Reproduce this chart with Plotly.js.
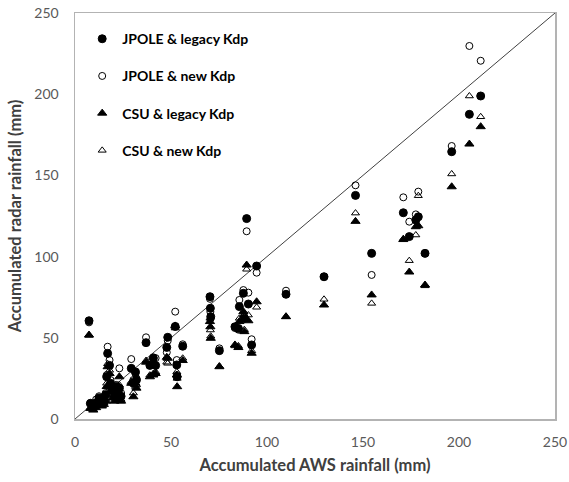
<!DOCTYPE html>
<html>
<head>
<meta charset="utf-8">
<script src="https://cdn.plot.ly/plotly-3.0.1.min.js"></script>
<style>html,body{margin:0;padding:0;background:#fff;}#chart{width:569px;height:482px;}</style>
</head>
<body>
<div id="chart"></div>
<script>
// Accumulated AWS rainfall (mm) per station
var awsRain = [7.3, 8, 9.5, 11, 12.5, 14, 15, 16, 16.5, 17, 18, 18.5, 19.5, 20.5, 21.5, 22.5, 23.1, 24,
  29.3, 30.4, 31.5, 32, 37, 39, 40.8, 42, 48.3, 47.8, 52.2, 53, 53.2, 56.1,
  70.3, 70.5, 70.7, 75.2, 83.3, 85.1, 85.6, 87.7, 88.2, 90.3, 89.4, 92, 94.6, 109.9, 129.7,
  146.1, 154.5, 171, 174.1, 177.5, 178.8, 182.3, 196.2, 205.4, 211.3];
// Radar rainfall estimates (mm)
var jpoleLegacy = [60.5, 9.5, 8, 10, 13, 12, 10.5, 15, 26, 40.4, 33, 22, 18, 15, 20, 17, 19, 14,
  31.2, 22, 29, 24, 47, 33, 37.4, 33, 50.3, 44.1, 57, 33.3, 26, 44.8,
  75.3, 68.2, 63, 42.1, 56.8, 55.8, 69.2, 77.4, 62, 70.8, 123.4, 45.6, 94.2, 76.8, 87.6,
  137.7, 102, 127, 112.3, 122.5, 124.5, 102, 164.6, 187.6, 198.9];
var jpoleNew = [59.5, 10, 9, 12, 14, 11, 13, 16, 27, 44.5, 36.3, 24, 20, 17, 21, 19, 31.2, 16,
  36.9, 24, 28, 25, 50.3, 35, 38, 37.5, 48.2, 41, 66.1, 36.3, 27, 46,
  74, 66, 62, 43.5, 56, 55, 73.3, 79.4, 63, 77.8, 115.6, 49.1, 90.1, 79, 87.6,
  143.9, 88.7, 136.5, 121.5, 126, 140, 102, 168.1, 229.7, 220.6];
var csuLegacy = [51.7, 6.5, 5.5, 7, 8.5, 8, 9, 11, 20, 32.2, 28, 17, 13, 11, 15, 12, 26, 11,
  22, 13.7, 22, 19, 35, 26, 27.1, 28, 37.4, 38, 57.3, 27.1, 19.9, 36,
  60, 56.8, 49.7, 32.2, 45.6, 44, 60, 66.1, 53.8, 60.5, 94.8, 40.5, 72.2, 63, 70.2,
  121.7, 76.4, 110.5, 90.5, 118.4, 119, 82.5, 143, 169.3, 180];
var csuNew = [51.5, 7, 6.5, 8, 9.5, 9, 10, 12, 22, 34, 30, 19, 15, 13, 16, 14, 21, 12,
  23, 16, 20, 21, 36, 27, 28, 29, 34.3, 35, 56, 29, 25, 37.4,
  62, 54.8, 51, 32.5, 45, 45, 62, 64, 55, 64, 92.2, 42, 68.8, 63, 73.7,
  126.8, 71.2, 111, 97.5, 113.3, 137.5, 82, 150.9, 198.9, 186.1];
var seriesNames = ['JPOLE & legacy Kdp', 'JPOLE & new Kdp', 'CSU & legacy Kdp', 'CSU & new Kdp'];
var oneToOne = [0, 250];
var tickVals = [0, 50, 100, 150, 200, 250];

var symbols = ['circle', 'circle-open', 'triangle-up', 'triangle-up-open'];
var sizes = [8, 7, 8, 7];
var ys = [jpoleLegacy, jpoleNew, csuLegacy, csuNew];

var traces = [{
  x: oneToOne, y: oneToOne, mode: 'lines', showlegend: false, hoverinfo: 'skip',
  line: {color: '#404040', width: 1}
}];
for (var i = 0; i < 4; i++) {
  traces.push({
    x: awsRain, y: ys[i], mode: 'markers', name: seriesNames[i], legendgroup: 'g' + i,
    marker: {symbol: symbols[i], size: sizes[i], color: '#000000', line: {color: '#000000', width: 1}}
  });
}

var axisCommon = {
  range: [0, 250], tickvals: tickVals, showgrid: false, zeroline: false,
  showline: true, mirror: true, linecolor: '#b3b3b3', linewidth: 1.5,
  ticks: 'outside', ticklen: 10, tickcolor: 'rgba(0,0,0,0)',
  tickfont: {family: 'Lato, Open Sans, sans-serif', size: 14, color: '#595959'}
};
var titleFont = {family: 'Lato, Open Sans, sans-serif', size: 16.5, color: '#404040', weight: 'bold'};
var xaxis = Object.assign({}, axisCommon, {
  title: {text: 'Accumulated AWS rainfall (mm)', standoff: 10, font: titleFont}
});
var yaxis = Object.assign({}, axisCommon, {
  ticklen: 12,
  title: {text: 'Accumulated radar rainfall (mm)', standoff: 8, font: titleFont}
});

var layout = {
  width: 569, height: 482,
  margin: {l: 75, r: 14, t: 13, b: 63},
  paper_bgcolor: '#ffffff', plot_bgcolor: '#ffffff',
  xaxis: xaxis, yaxis: yaxis,
  showlegend: true,
  legend: {x: 0.015, y: 0.975, xanchor: 'left', yanchor: 'top', bgcolor: 'rgba(0,0,0,0)',
    traceorder: 'grouped', tracegroupgap: 16, itemwidth: 30,
    font: {family: 'Lato, Open Sans, sans-serif', size: 14, color: '#000000', weight: 'bold'}}
};

Plotly.newPlot('chart', traces, layout, {displayModeBar: false, staticPlot: true});
</script>
</body>
</html>
